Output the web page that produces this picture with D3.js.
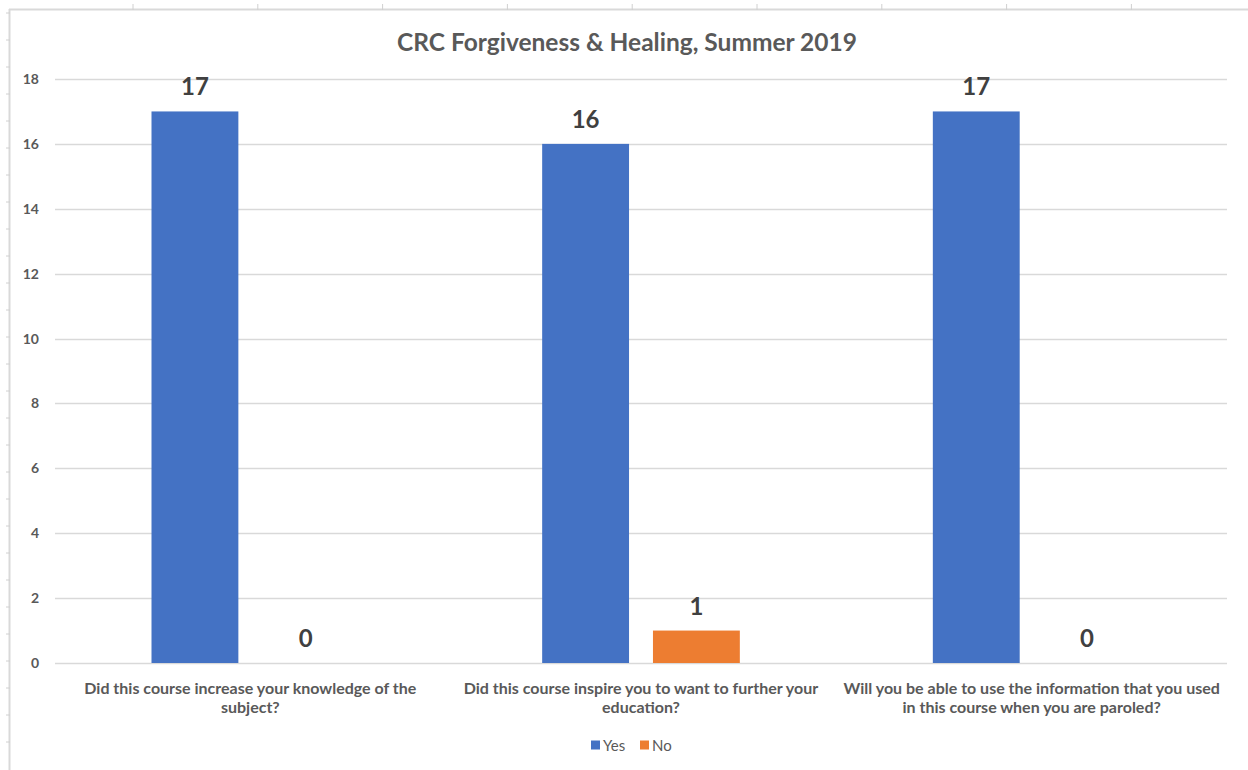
<!DOCTYPE html>
<html>
<head>
<meta charset="utf-8">
<script src="https://cdn.jsdelivr.net/npm/d3@7"></script>
<style>
  html, body { margin: 0; padding: 0; background: #fff; }
  svg { display: block; }
</style>
</head>
<body>
<svg id="chart" width="1248" height="770"></svg>
<script>
// ---- data ----
const title = "CRC Forgiveness & Healing, Summer 2019";
const categories = [
  ["Did this course increase your knowledge of the", "subject?"],
  ["Did this course inspire you to want to further your", "education?"],
  ["Will you be able to use the information that you used", "in this course when you are paroled?"]
];
const seriesNames = ["Yes", "No"];
const yesValues = [17, 16, 17];
const noValues = [0, 1, 0];
const yTicks = [0, 2, 4, 6, 8, 10, 12, 14, 16, 18];

const colors = { Yes: "#4472C4", No: "#ED7D31" };
const seriesValues = { Yes: yesValues, No: noValues };

const W = 1248, H = 770;
const svg = d3.select("#chart");
const font = "Lato, 'Open Sans', sans-serif";

// spreadsheet frame remnants
const frame = svg.append("g");
frame.append("line").attr("x1", 9).attr("x2", W).attr("y1", 9.5).attr("y2", 9.5)
  .attr("stroke", "#d9d9d9").attr("stroke-width", 2);
frame.append("line").attr("x1", 9.5).attr("x2", 9.5).attr("y1", 9).attr("y2", H)
  .attr("stroke", "#d9d9d9").attr("stroke-width", 2);
d3.range(0, 9).forEach(i => {
  const x = 133 + i * 124.8;
  frame.append("line").attr("x1", x).attr("x2", x).attr("y1", 4).attr("y2", 10)
    .attr("stroke", "#d0d0d0").attr("stroke-width", 1);
});
d3.range(0, 28).forEach(i => {
  const y = 13 + i * 27;
  if (y > H) return;
  frame.append("line").attr("x1", 6).attr("x2", 10).attr("y1", y).attr("y2", y)
    .attr("stroke", "#d0d0d0").attr("stroke-width", 1);
});

// plot area
const plot = { left: 55, right: 1227, top: 79, bottom: 663 };

const y = d3.scaleLinear().domain([0, 18]).range([plot.bottom, plot.top]);
const x0 = d3.scaleBand().domain(d3.range(categories.length))
  .range([plot.left, plot.right]).paddingInner(0).paddingOuter(0);
const x1 = d3.scaleBand().domain(seriesNames)
  .range([96.5, x0.bandwidth() - 96.5]).paddingInner(0.216).paddingOuter(0);

// gridlines
const grid = svg.append("g");
grid.selectAll("line").data(yTicks).join("line")
  .attr("x1", plot.left).attr("x2", plot.right)
  .attr("y1", d => Math.round(y(d)) + 0.5).attr("y2", d => Math.round(y(d)) + 0.5)
  .attr("stroke", "#d9d9d9").attr("stroke-width", 1.3);

// y axis labels
const yAxis = d3.axisLeft(y).tickValues(yTicks).tickSize(0).tickPadding(0);
const yg = svg.append("g").attr("transform", `translate(39,0)`).call(yAxis);
yg.select(".domain").remove();
yg.selectAll("text").attr("font-family", font).attr("font-weight", "bold")
  .attr("font-size", "14px").attr("fill", "#595959");

// bars
const groups = svg.append("g").selectAll("g").data(categories).join("g")
  .attr("transform", (d, i) => `translate(${x0(i)},0)`);

seriesNames.forEach(s => {
  groups.append("rect")
    .attr("x", x1(s))
    .attr("width", x1.bandwidth())
    .attr("y", (d, i) => y(seriesValues[s][i]))
    .attr("height", (d, i) => y(0) - y(seriesValues[s][i]))
    .attr("fill", colors[s]);
  groups.append("text")
    .attr("x", x1(s) + x1.bandwidth() / 2)
    .attr("y", (d, i) => y(seriesValues[s][i]) - 16)
    .attr("text-anchor", "middle")
    .attr("font-family", font).attr("font-weight", "bold")
    .attr("font-size", "24px").attr("fill", "#404040")
    .text((d, i) => seriesValues[s][i]);
});

// category labels
groups.append("text")
  .attr("text-anchor", "middle")
  .attr("font-family", font).attr("font-weight", "bold")
  .attr("font-size", "16px").attr("fill", "#595959")
  .each(function(d) {
    const t = d3.select(this);
    d.forEach((line, k) => {
      t.append("tspan").attr("x", x0.bandwidth() / 2).attr("y", 694 + k * 19).text(line);
    });
  });

// title
svg.append("text")
  .attr("x", 627).attr("y", 51)
  .attr("text-anchor", "middle")
  .attr("font-family", font).attr("font-weight", "bold")
  .attr("font-size", "24.5px").attr("fill", "#595959")
  .text(title);

// legend
const legend = svg.append("g").attr("transform", "translate(591,745)");
const legendX = { Yes: 0, No: 49 };
seriesNames.forEach(s => {
  legend.append("rect").attr("x", legendX[s]).attr("y", -4.5).attr("width", 9).attr("height", 9)
    .attr("fill", colors[s]);
  legend.append("text").attr("x", legendX[s] + 12).attr("y", 5.5)
    .attr("font-family", font).attr("font-size", "15px").attr("fill", "#595959")
    .text(s);
});
</script>
</body>
</html>
